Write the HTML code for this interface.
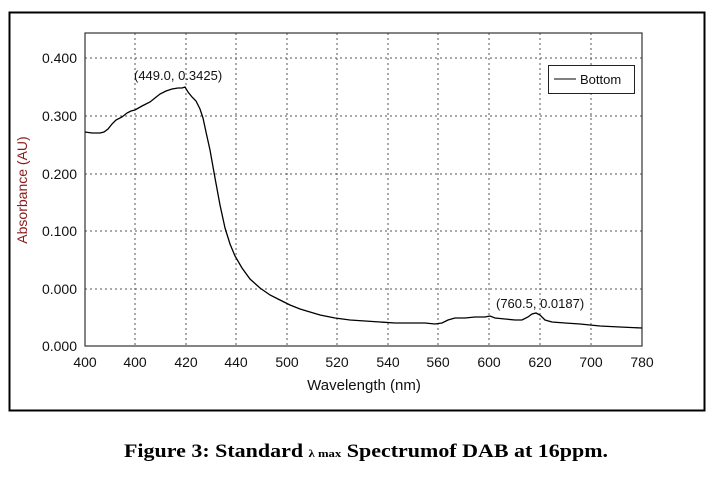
<!DOCTYPE html>
<html><head><style>
body{margin:0;background:#fff;width:712px;height:477px;overflow:hidden}
</style></head><body>
<svg width="712" height="477" xmlns="http://www.w3.org/2000/svg" style="position:absolute;left:0;top:0">
<rect x="9.5" y="12.5" width="695" height="398" fill="none" stroke="#000" stroke-width="2"/>
<g stroke="#555" stroke-width="1" stroke-dasharray="2,3">
<line x1="135" y1="33" x2="135" y2="346"/><line x1="186" y1="33" x2="186" y2="346"/>
<line x1="236" y1="33" x2="236" y2="346"/><line x1="287" y1="33" x2="287" y2="346"/>
<line x1="337" y1="33" x2="337" y2="346"/><line x1="388" y1="33" x2="388" y2="346"/>
<line x1="438" y1="33" x2="438" y2="346"/><line x1="489" y1="33" x2="489" y2="346"/>
<line x1="540" y1="33" x2="540" y2="346"/><line x1="591" y1="33" x2="591" y2="346"/>
<line x1="85" y1="58" x2="642" y2="58"/><line x1="85" y1="116" x2="642" y2="116"/>
<line x1="85" y1="174" x2="642" y2="174"/><line x1="85" y1="231" x2="642" y2="231"/>
<line x1="85" y1="289" x2="642" y2="289"/>
</g>
<rect x="85" y="33" width="557" height="313" fill="none" stroke="#333" stroke-width="1.2"/>
<g font-family="Liberation Sans, sans-serif" font-size="14" fill="#111">
<g text-anchor="end">
<text x="77" y="63">0.400</text><text x="77" y="121">0.300</text><text x="77" y="179">0.200</text>
<text x="77" y="236">0.100</text><text x="77" y="294">0.000</text><text x="77" y="351">0.000</text>
</g>
<g text-anchor="middle">
<text x="85" y="367">400</text><text x="135" y="367">400</text><text x="186" y="367">420</text>
<text x="236" y="367">440</text><text x="287" y="367">500</text><text x="337" y="367">520</text>
<text x="388" y="367">540</text><text x="438" y="367">560</text><text x="489" y="367">600</text>
<text x="540" y="367">620</text><text x="591" y="367">700</text><text x="642" y="367">780</text>
<text x="364" y="390" font-size="15">Wavelength (nm)</text>
</g>
<text x="134" y="80" font-size="13">(449.0, 0.3425)</text>
<text x="496" y="308" font-size="13">(760.5, 0.0187)</text>
<text transform="translate(27,190) rotate(-90)" text-anchor="middle" font-size="14" fill="#8b1a1a">Absorbance (AU)</text>
<rect x="548.5" y="65.5" width="86" height="28" fill="#fff" stroke="#222"/>
<line x1="554" y1="79" x2="576" y2="79" stroke="#000"/>
<text x="580" y="84" font-size="13">Bottom</text>
</g>
<polyline fill="none" stroke="#000" stroke-width="1.3" points="85,132 92,133 100,133 104,132 108,129 112,124 116,120 122,117 127,113 131,111 135,110 142,106 150,102 155,98 160,94 166,91 172,89 178,88 182,88 185,87 188,92 192,97 196,101 200,109 203,118 206,132 210,150 215,178 220,205 225,228 230,244 235,256 242,268 250,279 260,288 270,295 280,300 290,305 300,309 310,312 320,315 335,318 350,320 365,321 380,322 395,323 410,323 425,323 435,324 442,323 448,320 455,318 465,318 475,317 485,317 490,316 495,318 505,319 515,320 522,320 528,317 532,314 536,313 540,315 545,320 552,322 565,323 580,324 600,326 620,327 642,328"/>
<text x="366" y="457" text-anchor="middle" font-family="Liberation Serif, serif" font-weight="bold" font-size="19" fill="#000" textLength="484" lengthAdjust="spacingAndGlyphs">Figure 3: Standard <tspan font-size="11">λ max</tspan> Spectrumof DAB at 16ppm.</text>
</svg>
</body></html>
